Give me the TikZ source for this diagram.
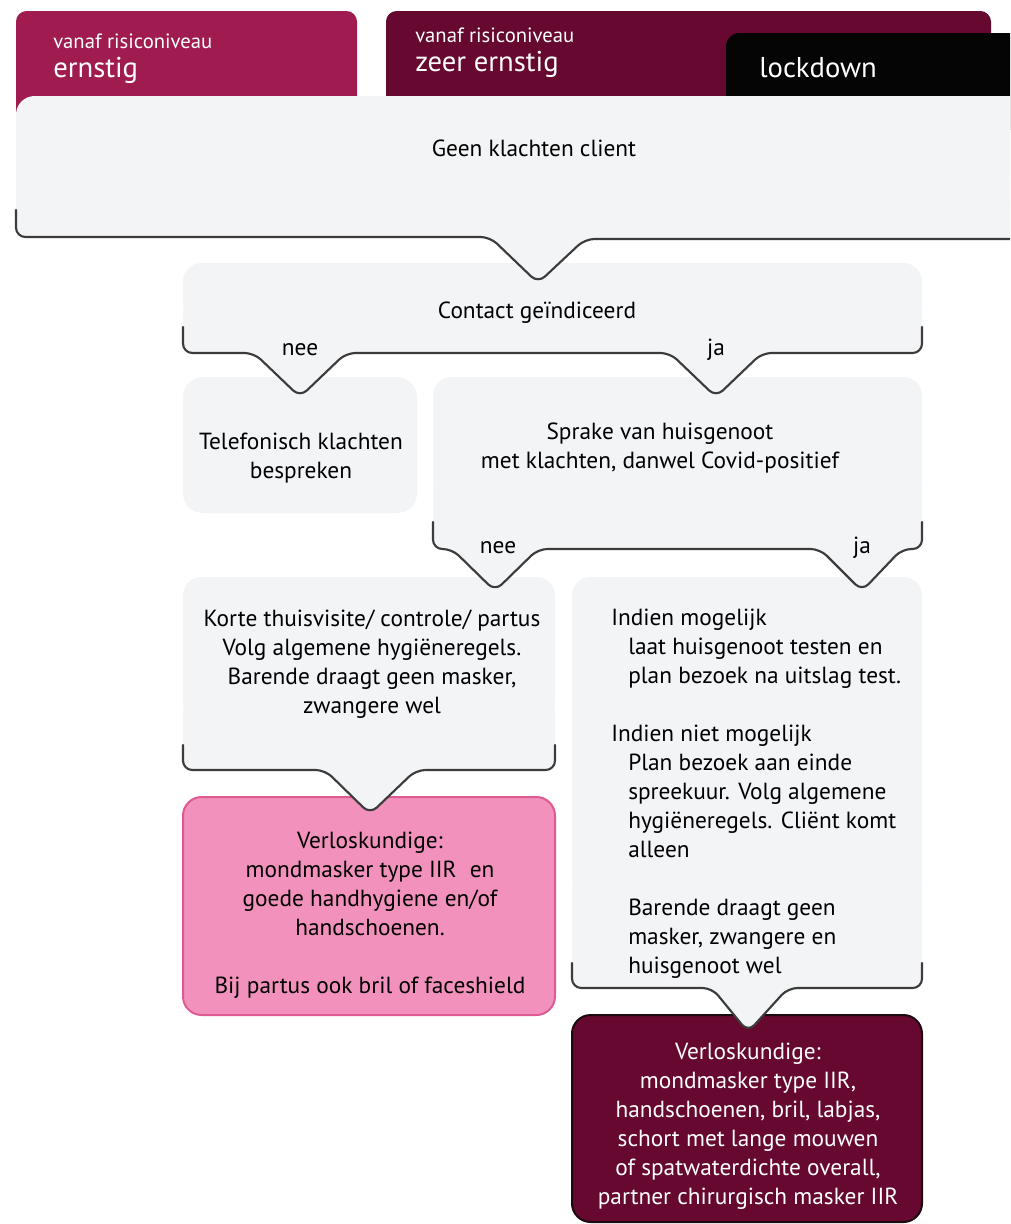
\documentclass[tikz,border=0pt]{standalone}
\usepackage{fontspec}
\setmainfont{PT Sans}
\definecolor{panelgray}{HTML}{F3F4F6}
\definecolor{edgegray}{HTML}{3C3C3C}
\definecolor{crimson}{HTML}{A01C50}
\definecolor{maroon}{HTML}{660830}
\definecolor{pinkfill}{HTML}{F291BC}
\definecolor{pinkedge}{HTML}{DE5A92}
\definecolor{darkedge}{HTML}{1C0A10}
\newcommand\mainfs{\fontsize{17.5}{21.75}\selectfont}
\newcommand\smallfs{\fontsize{15.5}{18}\selectfont}
\newcommand\bigfs{\fontsize{21.5}{26}\selectfont}
\newcommand\ind{\hspace*{12.75pt}}
\begin{document}
\begin{tikzpicture}[x=0.75pt,y=-0.75pt,
  edge/.style={draw=edgegray,line width=1.6pt,rounded corners=7,line cap=round,line join=round},
  panelfill/.style={fill=panelgray,rounded corners=7},
  paneltop/.style={fill=panelgray,rounded corners=14},
  txt/.style={font=\mainfs,inner sep=0pt,text=black,align=center},
  hdrsmall/.style={font=\smallfs,inner sep=0pt,text=white,anchor=base west},
  hdrbig/.style={font=\bigfs,inner sep=0pt,text=white,anchor=base west}]
\clip (0,0) rectangle (1010,1224);
\fill[white] (0,0) rectangle (1010,1224);

% headers
\fill[crimson,rounded corners=8] (16,11) rectangle (357,130);
\fill[maroon,rounded corners=8] (386,11) rectangle (991,130);
\fill[black!98,rounded corners=10] (726,33) rectangle (1040,130);
\node[hdrsmall] (h1a) at (53,48) {vanaf risiconiveau};
\node[hdrbig] (h1b) at (53,77) {ernstig};
\node[hdrsmall] (h2a) at (415,42) {vanaf risiconiveau};
\node[hdrbig] (h2b) at (415,71) {zeer ernstig};
\node[hdrbig] (h3) at (759,77) {lockdown};

% dark box
\draw[fill=maroon,draw=darkedge,line width=1.5pt,rounded corners=14] (572,1015) rectangle (922,1222);
\node[txt,text=white] (dark) at (748,1126) {Verloskundige:\\ mondmasker type IIR,\\ handschoenen, bril, labjas,\\ schort met lange mouwen\\ of spatwaterdichte overall,\\ partner chirurgisch masker IIR};

% pink box
\draw[fill=pinkfill,draw=pinkedge,line width=1.5pt,rounded corners=14] (183,797) rectangle (555,1015);
\node[txt] (pink) at (370,915) {Verloskundige:\\ mondmasker type IIR\hspace{0.3em} en\\ goede handhygiene en/of\\ handschoenen.\\[21.75pt] Bij partus ook bril of faceshield};

% Indien box
\fill[paneltop] (572,577) rectangle (922,900);
\fill[panelfill] (572,880) -- (572,988) -- (712,988) -- (748,1032) -- (788,988) -- (922,988) -- (922,880) -- cycle;
\draw[edge] (572,963) -- (572,988) -- (712,988) -- (748,1032) -- (788,988) -- (922,988) -- (922,963);
\node[txt,align=left,anchor=west] (indien) at (611,794) {Indien mogelijk\\ \ind laat huisgenoot testen en\\ \ind plan bezoek na uitslag test.\\[21.75pt] Indien niet mogelijk\\ \ind Plan bezoek aan einde\\ \ind spreekuur. Volg algemene\\ \ind hygiëneregels. Cliënt komt\\ \ind alleen\\[21.75pt] \ind Barende draagt geen\\ \ind masker, zwangere en\\ \ind huisgenoot wel};

% Korte box
\fill[paneltop] (183,577) rectangle (555,720);
\fill[panelfill] (183,700) -- (183,770) -- (325,770) -- (370,814) -- (416,770) -- (555,770) -- (555,700) -- cycle;
\draw[edge] (183,745) -- (183,770) -- (325,770) -- (370,814) -- (416,770) -- (555,770) -- (555,745);
\node[txt] (korte) at (372,664) {Korte thuisvisite/ controle/ partus\\ Volg algemene hygiëneregels.\\ Barende draagt geen masker,\\ zwangere wel};

% Sprake box
\fill[paneltop] (433,377) rectangle (922,500);
\fill[panelfill] (433,480) -- (433,549) -- (452,549) -- (495,591) -- (538,549) -- (820,549) -- (862,591) -- (902,549) -- (922,549) -- (922,480) -- cycle;
\draw[edge] (433,522) -- (433,549) -- (452,549) -- (495,591) -- (538,549) -- (820,549) -- (862,591) -- (902,549) -- (922,549) -- (922,522);
\node[txt] (sprake) at (660,448) {Sprake van huisgenoot\\ met klachten, danwel Covid-positief};
\node[txt,anchor=base] (nee2) at (498,553) {nee};
\node[txt,anchor=base] (ja2) at (862,553) {ja};

% Telefonisch box
\fill[panelgray,rounded corners=15] (183,377) rectangle (417,513);
\node[txt] (tel) at (301,458) {Telefonisch klachten\\ bespreken};

% Contact box
\fill[paneltop] (183,263) rectangle (922,320);
\fill[panelfill] (183,300) -- (183,353) -- (254,353) -- (300,397) -- (346,353) -- (670,353) -- (716,397) -- (762,353) -- (922,353) -- (922,300) -- cycle;
\draw[edge] (183,327) -- (183,353) -- (254,353) -- (300,397) -- (346,353) -- (670,353) -- (716,397) -- (762,353) -- (922,353) -- (922,327);
\node[txt] (contact) at (537,313) {Contact geïndiceerd};
\node[txt,anchor=base] (nee1) at (300,355) {nee};
\node[txt,anchor=base] (ja1) at (716,355) {ja};

% Geen klachten box
\fill[paneltop] (16,96) rectangle (1040,200);
\fill[panelfill] (16,180) -- (16,237) -- (490,237) -- (538,283) -- (585,239) -- (1040,239) -- (1040,180) -- cycle;
\draw[edge] (16,210) -- (16,237) -- (490,237) -- (538,283) -- (585,239) -- (1040,239);
\node[txt] (geen) at (534,148) {Geen klachten client};
\end{tikzpicture}
\end{document}
